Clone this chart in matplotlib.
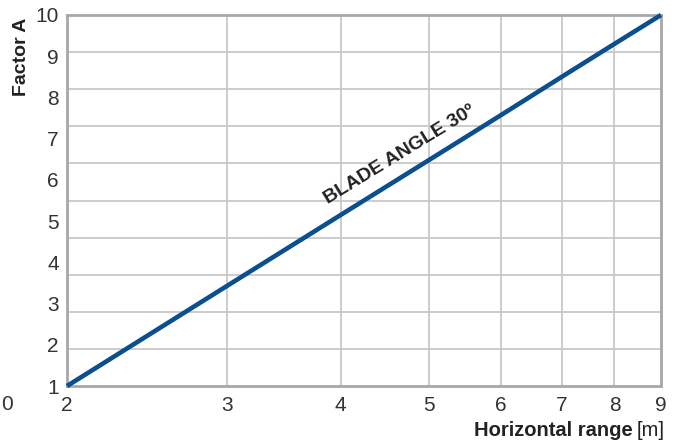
import numpy as np
import matplotlib
matplotlib.use("Agg")
import matplotlib.pyplot as plt
from matplotlib.ticker import FixedLocator, NullFormatter, NullLocator

plt.rcParams['font.family'] = ['Liberation Sans', 'DejaVu Sans']

# data
range_m = [2, 3, 4, 5, 6, 7, 8, 9]
factor_a = [1.0, 3.43, 5.15, 6.48, 7.57, 8.50, 9.30, 10.0]
x_ticks = [2, 3, 4, 5, 6, 7, 8, 9]
y_ticks = [1, 2, 3, 4, 5, 6, 7, 8, 9, 10]
series_label = "BLADE ANGLE 30º"

W, H = 684, 443
fig = plt.figure(figsize=(W / 100, H / 100), dpi=100)
ax = fig.add_axes([67 / W, 1 - 386 / H, (661 - 67) / W, (386 - 15) / H])

ax.set_xscale('log')
ax.set_xlim(2, 9)
ax.set_ylim(1, 10)

grid_c = '#c8c8c8'
ax.xaxis.set_major_locator(FixedLocator(x_ticks))
ax.xaxis.set_minor_locator(NullLocator())
ax.set_xticklabels([str(t) for t in x_ticks])
ax.yaxis.set_major_locator(FixedLocator(y_ticks))
ax.yaxis.set_minor_locator(FixedLocator(list(np.linspace(1, 10, 11))))
ax.yaxis.set_minor_formatter(NullFormatter())

ax.grid(True, which='major', axis='x', color=grid_c, lw=1.3)
ax.grid(True, which='minor', axis='y', color=grid_c, lw=1.3)
ax.set_axisbelow(True)

ax.tick_params(axis='both', which='both', length=0, labelsize=15, colors='#333333')
ax.tick_params(axis='x', pad=7)
ax.tick_params(axis='y', pad=6)

for s in ax.spines.values():
    s.set_color('#a7a7a9')
    s.set_linewidth(2)

ax.plot(range_m, factor_a, color='#0b4f8e', lw=3.3, solid_capstyle='butt', clip_on=False, zorder=3)

ax.text(4.65, 6.6, series_label, rotation=31.5, rotation_mode='anchor', ha='center', va='center',
        fontsize=14, fontweight='bold', color='#222222')

# "Horizontal range [m]" with mixed weights
ylab = 1 - 430 / H
t1 = fig.text(665 / W, ylab, "[m]", ha='right', va='center', fontsize=14.5, color='#222222')
fig.canvas.draw()
bb = t1.get_window_extent()
fig.text((bb.x0 - 4) / W, ylab, "Horizontal range", ha='right', va='center', fontsize=14.5,
         fontweight='bold', color='#222222')

fig.text(21 / W, 1 - 57 / H, "Factor A", rotation=90, ha='center', va='center', fontsize=14,
         fontweight='bold', color='#222222')

fig.text(1 / W, 1 - 405 / H, "0", ha='left', va='center', fontsize=15, color='#333333')

fig.savefig("out.png", dpi=100)
